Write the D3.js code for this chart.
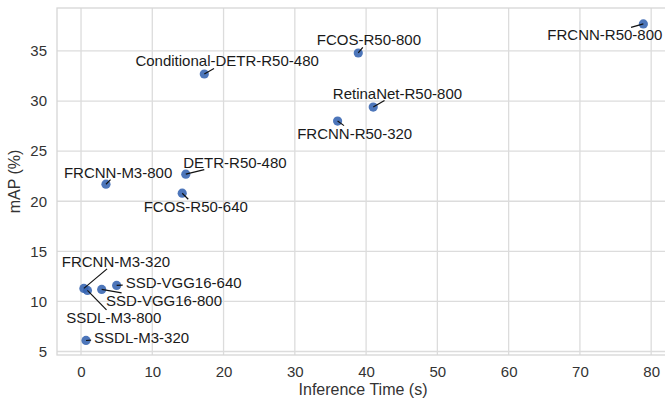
<!DOCTYPE html>
<html>
<head>
<meta charset="utf-8">
<script src="https://cdn.jsdelivr.net/npm/d3@7"></script>
<style>
  body { margin: 0; background: #fff; }
  svg { font-family: "Liberation Sans", Arial, sans-serif; }
</style>
</head>
<body>
<svg id="scatter" width="665" height="402"></svg>
<script>
// models, inference time (s), mAP (%)
let models = ['FRCNN-R50-800', 'FCOS-R50-800', 'Conditional-DETR-R50-480', 'RetinaNet-R50-800',
    'FRCNN-R50-320', 'DETR-R50-480', 'FRCNN-M3-800', 'FCOS-R50-640', 'FRCNN-M3-320',
    'SSD-VGG16-640', 'SSD-VGG16-800', 'SSDL-M3-800', 'SSDL-M3-320']
let times = [78.9, 38.9, 17.3, 41.0, 36.0, 14.7, 3.5, 14.2, 0.4, 5.0, 2.9, 0.9, 0.7]
let maps = [37.7, 34.8, 32.7, 29.4, 28.0, 22.7, 21.7, 20.8, 11.3, 11.6, 11.2, 11.1, 6.1]
// where the labels were placed (data units, label centre)
let labelX = [73.5, 40.4, 20.5, 44.4, 38.4, 21.6, 5.2, 16.1, 4.9, 14.4, 11.65, 4.6, 8.5]
let labelY = [36.6, 36.1, 34.0, 30.8, 26.8, 23.9, 22.9, 19.45, 14.0, 11.9, 10.1, 8.4, 6.4]
let xTicks = [0, 10, 20, 30, 40, 50, 60, 70, 80]
let yTicks = [5, 10, 15, 20, 25, 30, 35]

let data = models.map(function (m, i) {
    return {name: m, t: times[i], map: maps[i], lx: labelX[i], ly: labelY[i]}
})

let svg = d3.select('#scatter')
let margin = {top: 8, right: -4, bottom: 47, left: 57}
let width = +svg.attr('width')
let height = +svg.attr('height')

let x = d3.scaleLinear()
    .domain([-3.37, 82.5])
    .range([margin.left, width - margin.right])
let y = d3.scaleLinear()
    .domain([4.65, 39.29])
    .range([height - margin.bottom, margin.top])

// grid
svg.append('g')
    .selectAll('line')
    .data(xTicks)
    .enter().append('line')
    .attr('x1', d => x(d)).attr('x2', d => x(d))
    .attr('y1', margin.top).attr('y2', height - margin.bottom)
    .attr('stroke', '#dcdcdc').attr('stroke-width', 1.3)
svg.append('g')
    .selectAll('line')
    .data(yTicks)
    .enter().append('line')
    .attr('x1', margin.left).attr('x2', width - margin.right)
    .attr('y1', d => y(d)).attr('y2', d => y(d))
    .attr('stroke', '#dcdcdc').attr('stroke-width', 1.3)

// frame
svg.append('rect')
    .attr('x', margin.left).attr('y', margin.top)
    .attr('width', width - margin.right - margin.left)
    .attr('height', height - margin.bottom - margin.top)
    .attr('fill', 'none').attr('stroke', '#d6d6d6').attr('stroke-width', 1.3)

// axes
svg.append('g')
    .attr('transform', 'translate(0,' + (height - margin.bottom) + ')')
    .call(d3.axisBottom(x).tickValues(xTicks).tickSize(0).tickPadding(11))
    .style('font-size', '15px')
svg.append('g')
    .attr('transform', 'translate(' + margin.left + ',0)')
    .call(d3.axisLeft(y).tickValues(yTicks).tickSize(0).tickPadding(10))
    .style('font-size', '15px')
svg.selectAll('.domain').remove()
svg.selectAll('.tick text').attr('fill', '#333').style('font-family', '"Liberation Sans", Arial, sans-serif')

svg.append('text')
    .attr('x', (margin.left + width - margin.right) / 2)
    .attr('y', 395)
    .attr('text-anchor', 'middle')
    .attr('fill', '#333')
    .style('font-size', '16px')
    .text('Inference Time (s)')
svg.append('text')
    .attr('transform', 'translate(20,' + ((margin.top + height - margin.bottom) / 2) + ') rotate(-90)')
    .attr('text-anchor', 'middle')
    .attr('fill', '#333')
    .style('font-size', '16px')
    .text('mAP (%)')

// points
svg.append('g')
    .selectAll('circle')
    .data(data)
    .enter().append('circle')
    .attr('cx', d => x(d.t))
    .attr('cy', d => y(d.map))
    .attr('r', 4.6)
    .attr('fill', '#3463b0')
    .attr('fill-opacity', 0.88)

// labels
let labels = svg.append('g')
    .selectAll('text')
    .data(data)
    .enter().append('text')
    .attr('x', d => x(d.lx))
    .attr('y', d => y(d.ly))
    .attr('text-anchor', 'middle')
    .attr('dominant-baseline', 'central')
    .attr('fill', '#1a1a1a')
    .style('font-size', '15px')
    .text(d => d.name)

// connector lines: from point to the edge of the label box
let links = svg.append('g')
labels.each(function (d) {
    let b = this.getBBox()
    let x0 = b.x - 3, x1 = b.x + b.width + 3
    let y0 = b.y + 1, y1 = b.y + b.height - 1
    let px = x(d.t), py = y(d.map)
    if (px >= x0 && px <= x1 && py >= y0 && py <= y1) return
    let dx = x(d.lx) - px, dy = y(d.ly) - py
    let tx = dx !== 0 ? Math.min((x0 - px) / dx, (x1 - px) / dx) : -Infinity
    let ty = dy !== 0 ? Math.min((y0 - py) / dy, (y1 - py) / dy) : -Infinity
    let t = Math.max(tx, ty, 0)
    let ex = px + dx * t, ey = py + dy * t
    if (Math.hypot(ex - px, ey - py) < 2) return
    links.append('line')
        .attr('x1', px).attr('y1', py)
        .attr('x2', ex).attr('y2', ey)
        .attr('stroke', '#111').attr('stroke-width', 1.2)
})
</script>
</body>
</html>
